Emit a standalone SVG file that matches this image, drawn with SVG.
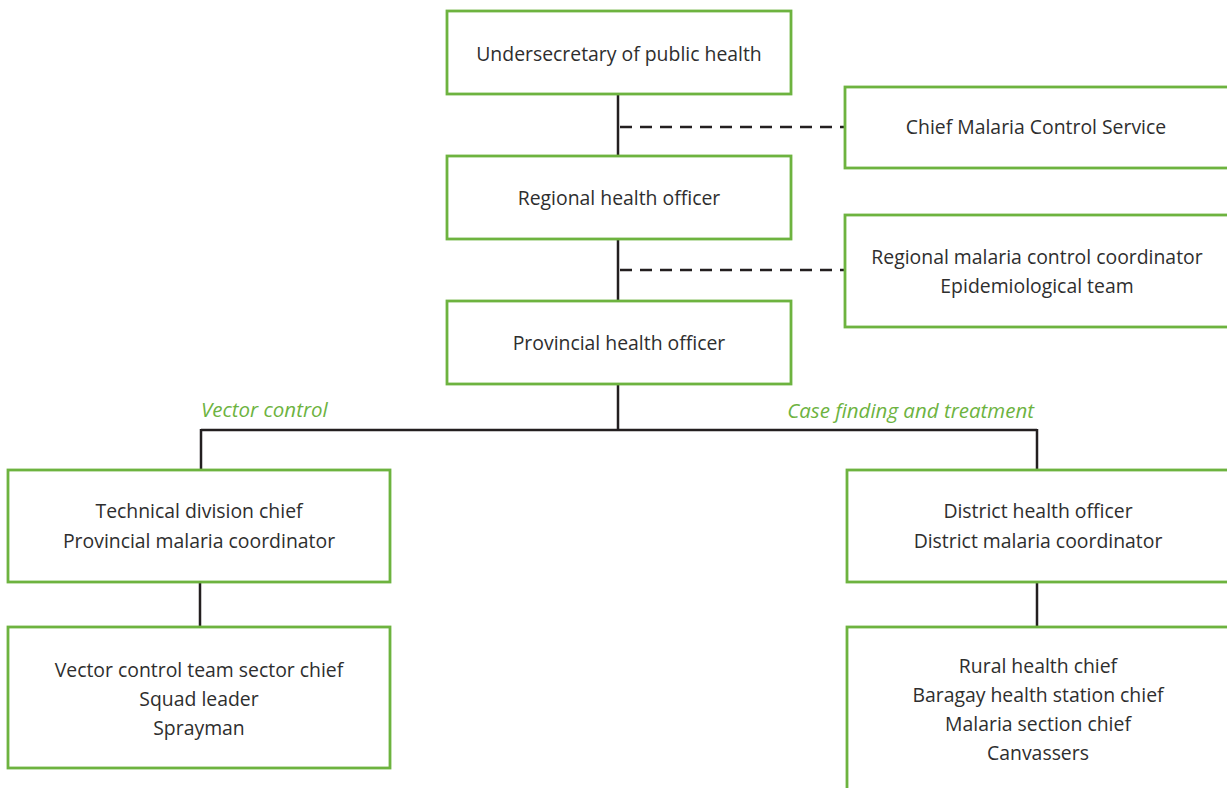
<svg xmlns="http://www.w3.org/2000/svg" width="1227" height="788" viewBox="0 0 1227 788">
<style>
.box{fill:#fff;stroke:#6db33f;stroke-width:2.8}
.t{font-family:"Open Sans","Liberation Sans",sans-serif;font-size:19.4px;fill:#2e2e2e;text-anchor:middle}
.lbl{font-family:"Open Sans","Liberation Sans",sans-serif;font-size:20.5px;fill:#6db33f;font-style:italic}
.ln{stroke:#231f20;stroke-width:2.5;fill:none}
.dash{stroke:#231f20;stroke-width:2.5;fill:none;stroke-dasharray:12 8}
</style>
<rect width="1227" height="788" fill="#fff"/>
<g id="connectors">
<path class="ln" d="M618 94V156M618 239V301M618 384V430M201 430H1037M201 429V470M1037 429V470M200 582V627M1037 582V627"/>
<path class="dash" d="M620 127H845M620 270H845"/>
</g>
<g id="n-under"><rect class="box" x="447" y="11" width="344" height="83"/><text class="t" x="619" y="61">Undersecretary of public health</text></g>
<g id="n-chief"><rect class="box" x="845" y="87" width="384" height="81"/><text class="t" x="1036" y="134">Chief Malaria Control Service</text></g>
<g id="n-regional"><rect class="box" x="447" y="156" width="344" height="83"/><text class="t" x="619" y="205">Regional health officer</text></g>
<g id="n-regmal"><rect class="box" x="845" y="215" width="384" height="112"/><text class="t" x="1037" y="264">Regional malaria control coordinator</text><text class="t" x="1037" y="293">Epidemiological team</text></g>
<g id="n-prov"><rect class="box" x="447" y="301" width="344" height="83"/><text class="t" x="619" y="350">Provincial health officer</text></g>
<g id="labels"><text class="lbl" x="201" y="417">Vector control</text><text class="lbl" x="1034" y="418" text-anchor="end">Case finding and treatment</text></g>
<g id="n-tech"><rect class="box" x="8" y="470" width="382" height="112"/><text class="t" x="199" y="518">Technical division chief</text><text class="t" x="199" y="548">Provincial malaria coordinator</text></g>
<g id="n-district"><rect class="box" x="847" y="470" width="382" height="112"/><text class="t" x="1038" y="518">District health officer</text><text class="t" x="1038" y="548">District malaria coordinator</text></g>
<g id="n-vector"><rect class="box" x="8" y="627" width="382" height="141"/><text class="t" x="199" y="677">Vector control team sector chief</text><text class="t" x="199" y="706">Squad leader</text><text class="t" x="199" y="735">Sprayman</text></g>
<g id="n-rural"><rect class="box" x="847" y="627" width="384" height="170"/><text class="t" x="1038" y="673">Rural health chief</text><text class="t" x="1038" y="702">Baragay health station chief</text><text class="t" x="1038" y="731">Malaria section chief</text><text class="t" x="1038" y="760">Canvassers</text></g>
</svg>
